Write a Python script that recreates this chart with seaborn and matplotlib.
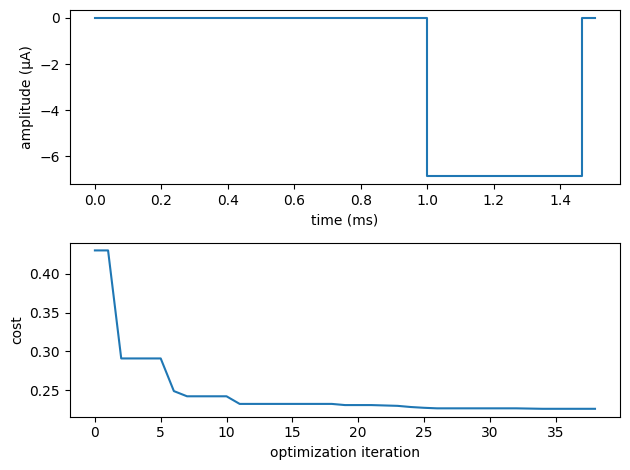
import matplotlib
matplotlib.use("Agg")
import matplotlib.pyplot as plt
import seaborn as sns
import numpy as np

time_ms = [0.0, 1.0, 1.466, 1.505]
amplitude_uA = [0.0, -6.87, 0.0, 0.0]

iterations = list(range(39))
cost = [0.430, 0.430, 0.291, 0.291, 0.291, 0.291, 0.249, 0.2423, 0.2423, 0.2423,
        0.2423, 0.2325, 0.2325, 0.2325, 0.2325, 0.2325, 0.2325, 0.2325, 0.2325, 0.2310,
        0.2310, 0.2310, 0.2305, 0.2300, 0.2285, 0.2275, 0.2268, 0.2268, 0.2268, 0.2268,
        0.2268, 0.2268, 0.2268, 0.2265, 0.2262, 0.2262, 0.2262, 0.2262, 0.2262]

fig, (ax1, ax2) = plt.subplots(2, 1, figsize=(6.4, 4.8), dpi=100)

sns.lineplot(x=time_ms, y=amplitude_uA, ax=ax1, drawstyle="steps-post", color="#1f77b4")
ax1.set_xlabel("time (ms)")
ax1.set_ylabel("amplitude (\u00b5A)")

sns.lineplot(x=iterations, y=cost, ax=ax2, color="#1f77b4")
ax2.set_xlabel("optimization iteration")
ax2.set_ylabel("cost")

fig.tight_layout()
fig.savefig("out.png", dpi=100, bbox_inches="tight")
